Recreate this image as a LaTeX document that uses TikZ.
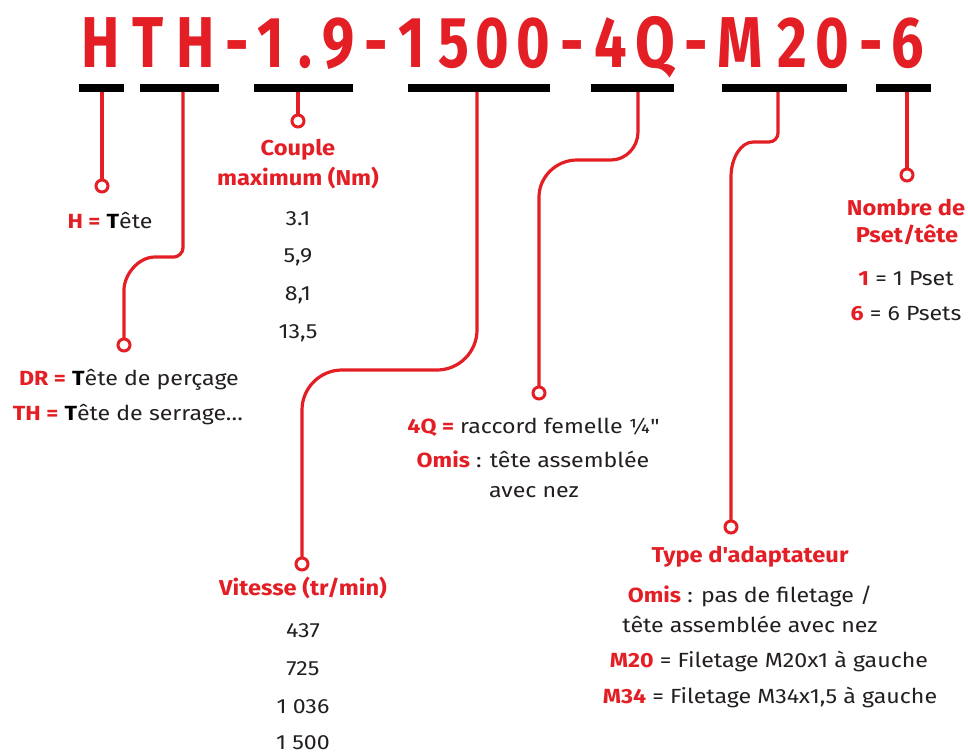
\documentclass[tikz,border=0pt]{standalone}
\usepackage{fontspec}
\setmainfont{Fira Sans}
\newfontfamily\bodyfam{Fira Sans}[FakeStretch=1.13]
\newfontfamily\headfam{Fira Sans}[FakeStretch=1.1]
\definecolor{rd}{RGB}{227,30,36}
\definecolor{tx}{RGB}{35,31,32}
\newcommand\bodyf{\bodyfam\fontsize{20.5}{24}\selectfont}
\newcommand\headf{\headfam\fontsize{21.5}{25}\selectfont\bfseries}
\newcommand\ttlf{\fontsize{72}{80}\selectfont\bfseries}
\newcommand\R[1]{\textcolor{rd}{\textbf{#1}}}
\newcommand\K[1]{\textcolor{black}{\textbf{#1}}}
\tikzset{
  bar/.style={fill=black, inner sep=0pt, outer sep=0pt, minimum height=8pt},
  pin/.style={circle, draw=rd, fill=white, line width=3pt, minimum size=12pt, inner sep=0pt, outer sep=0pt},
  link/.style={draw=rd, line width=3.2pt},
  lbl/.style={anchor=base, inner sep=0pt, text=tx, font=\bodyf},
  hd/.style={anchor=base, inner sep=0pt, text=rd, font=\headf, align=center},
  ttl/.style={anchor=base, inner sep=0pt, text=rd, font=\ttlf}
}
\begin{document}
\begin{tikzpicture}[x=1pt,y=-1pt]
\useasboundingbox (0,0) rectangle (968,753);
% title characters
\foreach \c/\x [count=\i] in {H/101,T/148,H/195.5,-/237,1/271,./305,9/339,-/376,1/411.5,5/454,0/492.5,0/533.5,-/572.5,4/610.5,Q/655,-/696,M/740.5,2/792.5,0/832.5,-/871,6/907.5}
  \node[ttl] (t\i) at (\x,67) {\scalebox{0.8}[1]{\c}};
% bars
\node[bar, minimum width=45pt]  (b1) at (101.5,88) {};
\node[bar, minimum width=79pt]  (b2) at (179.5,88) {};
\node[bar, minimum width=99pt]  (b3) at (303.5,88) {};
\node[bar, minimum width=142pt] (b4) at (479,88) {};
\node[bar, minimum width=83pt]  (b5) at (632.5,88) {};
\node[bar, minimum width=125pt] (b6) at (784.5,88) {};
\node[bar, minimum width=55pt]  (b7) at (903.5,88) {};
% connector start points
\coordinate (s1) at (102,92);
\coordinate (s2) at (183,92);
\coordinate (s3) at (298,92);
\coordinate (s4) at (477,92);
\coordinate (s5) at (638,92);
\coordinate (s6) at (778,92);
\coordinate (s7) at (907,92);
% pins
\node[pin] (c1) at (102,186) {};
\node[pin] (c2) at (124,345) {};
\node[pin] (c3) at (298,121) {};
\node[pin] (c4) at (302,564) {};
\node[pin] (c5) at (539,393) {};
\node[pin] (c6) at (731,527) {};
\node[pin] (c7) at (907,175) {};
% connectors
\draw[link] (s1) -- (c1.north);
\draw[link] (s2) -- (183,248) .. controls (183,253) and (178,257) .. (174,257) -- (155,257) .. controls (138,257) and (124,275) .. (124,290) -- (c2.north);
\draw[link] (s3) -- (c3.north);
\draw[link] (s4) -- (477,330) .. controls (477,352) and (459,370) .. (437,370) -- (342,370) .. controls (320,370) and (302,388) .. (302,410) -- (c4.north);
\draw[link] (s5) -- (638,132) .. controls (638,147) and (626,160) .. (611,160) -- (577,160) .. controls (556,160) and (539,177) .. (539,197) -- (c5.north);
\draw[link] (s6) -- (778,133) .. controls (778,138) and (774,142) .. (769,142) -- (753,142) .. controls (741,142) and (731,158) .. (731,177) -- (c6.north);
\draw[link] (s7) -- (c7.north);
% H
\node[lbl] (h1) at (110,228) {\R{H =} \K{T}ête};
% DR / TH
\node[lbl] (d1) at (129,385) {\R{DR =} \K{T}ête de perçage};
\node[lbl] (d2) at (128,420) {\R{TH =} \K{T}ête de serrage…};
% Couple
\node[hd] (k1) at (298,155) {Couple};
\node[hd] (k2) at (298,185) {maximum (Nm)};
\node[lbl] (k3) at (298,225) {3.1};
\node[lbl] (k4) at (298,262) {5,9};
\node[lbl] (k5) at (298,300) {8,1};
\node[lbl] (k6) at (298,338) {13,5};
% Vitesse
\node[hd] (v1) at (303,595) {Vitesse (tr/min)};
\node[lbl] (v2) at (303,637) {437};
\node[lbl] (v3) at (303,675) {725};
\node[lbl] (v4) at (303,713) {1 036};
\node[lbl] (v5) at (303,749.5) {1 500};
% 4Q
\node[lbl] (q1) at (533,433) {\R{4Q =} raccord femelle ¼\textquotedbl};
\node[lbl] (q2) at (533,467) {\R{Omis} : tête assemblée};
\node[lbl] (q3) at (534,497) {avec nez};
% adaptateur
\node[hd] (a1) at (750,562) {Type d\textquotesingle adaptateur};
\node[lbl] (a2) at (750,602) {\R{Omis} : pas de filetage /};
\node[lbl] (a3) at (750,632) {tête assemblée avec nez};
\node[lbl] (a4) at (769,667) {\R{M20} = Filetage M20x1 à gauche};
\node[lbl] (a5) at (770,703) {\R{M34} = Filetage M34x1,5 à gauche};
% Pset
\node[hd] (p1) at (906,215) {Nombre de};
\node[hd] (p2) at (907,242) {Pset/tête};
\node[lbl] (p3) at (906,285) {\R{1} = 1 Pset};
\node[lbl] (p4) at (906,320) {\R{6} = 6 Psets};
\end{tikzpicture}
\end{document}
